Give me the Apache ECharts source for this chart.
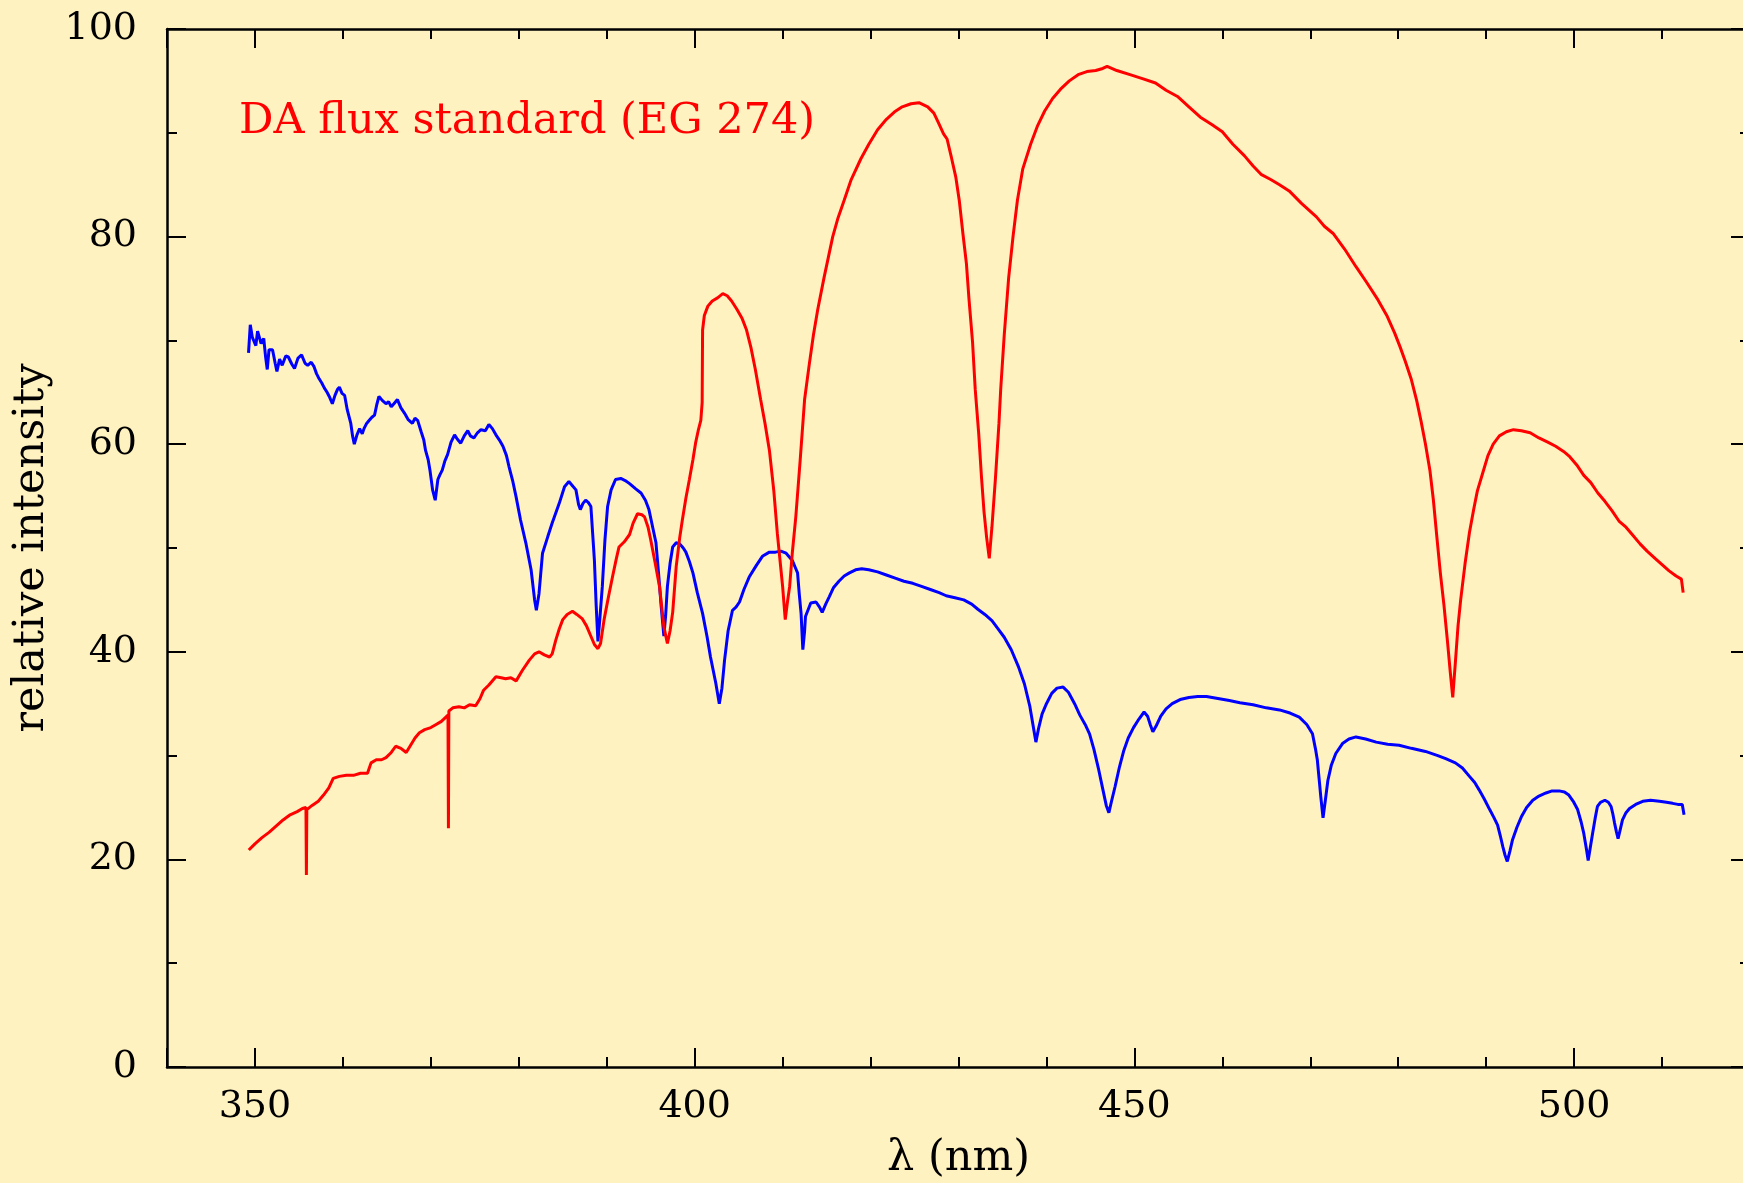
<!DOCTYPE html>
<html>
<head>
<meta charset="utf-8">
<title>DA flux standard (EG 274)</title>
<script src="https://cdn.jsdelivr.net/npm/echarts@6/dist/echarts.min.js"></script>
<style>
  html, body { margin: 0; padding: 0; background: #fff2c1; overflow: hidden; width: 1743px; height: 1183px; }
  #chart { position: absolute; left: 0; top: 0; width: 1743px; height: 1183px; }
</style>
</head>
<body>
<div id="chart"></div>
<script>
// wavelength (nm) and relative intensity
const blueWavelength = [
  349.27, 349.47, 349.7, 349.9, 350.1, 350.3, 350.7, 351.0, 351.2, 351.4, 351.6, 352.0, 352.3, 352.5, 352.8,
  353.1, 353.5, 353.8, 354.2, 354.5, 354.9, 355.3, 355.7, 356.0, 356.4, 356.7, 357.0, 357.3, 357.6, 357.9,
  358.2, 358.45, 358.8, 359.1, 359.4, 359.6, 359.9, 360.2, 360.5, 360.9, 361.1, 361.3, 361.6, 361.9, 362.2,
  362.4, 362.7, 363.0, 363.3, 363.6, 363.85, 364.1, 364.5, 364.9, 365.2, 365.5, 365.9, 366.2, 366.6, 367.0,
  367.4, 367.9, 368.2, 368.5, 368.9, 369.2, 369.4, 369.7, 369.9, 370.2, 370.5, 370.8, 371.0, 371.3, 371.6,
  371.9, 372.3, 372.7, 373.0, 373.4, 373.8, 374.2, 374.5, 374.9, 375.3, 375.7, 376.2, 376.6, 377.0, 377.4,
  377.8, 378.2, 378.6, 378.9, 379.3, 379.7, 380.2, 380.8, 381.4, 381.8, 382.0, 382.3, 382.7, 383.3, 383.8,
  384.6, 385.2, 385.7, 386.1, 386.5, 386.8, 387.0, 387.3, 387.6, 387.9, 388.2, 388.4, 388.6, 388.8, 389.0,
  389.2, 389.5, 389.8, 390.1, 390.5, 391.0, 391.6, 392.1, 392.6, 393.3, 393.9, 394.4, 394.8, 395.2, 395.6,
  395.9, 396.2, 396.5, 396.7, 396.9, 397.2, 397.5, 397.9, 398.3, 398.7, 399.0, 399.4, 399.8, 400.3, 400.9,
  401.4, 401.8, 402.4, 402.8, 403.1, 403.4, 403.8, 404.3, 404.7, 405.1, 405.6, 406.2, 407.0, 407.7, 408.5,
  409.2, 409.8, 410.4, 411.1, 411.5, 411.7, 411.9, 412.1, 412.3, 412.5, 412.6, 413.2, 413.8, 414.2, 414.5,
  414.9, 415.3, 415.8, 416.4, 417.0, 417.6, 418.3, 419.0, 419.8, 420.8, 421.8, 422.8, 423.8, 424.8, 425.8,
  426.8, 427.8, 428.6, 429.6, 430.6, 431.5, 432.2, 433.0, 433.8, 434.5, 435.2, 436.0, 436.8, 437.5, 438.1,
  438.5, 438.8, 439.1, 439.5, 440.0, 440.6, 441.2, 441.9, 442.5, 443.2, 443.8, 444.4, 444.9, 445.4, 445.9,
  446.4, 446.8, 447.1, 447.4, 447.8, 448.3, 448.8, 449.3, 449.9, 450.5, 451.1, 451.5, 451.8, 452.1, 452.5,
  453.0, 453.6, 454.3, 455.2, 456.2, 457.2, 458.2, 459.5, 460.8, 462.0, 463.5, 465.0, 466.5, 467.7, 468.75,
  469.6, 470.25, 470.6, 470.8, 471.0, 471.2, 471.45, 471.7, 472.0, 472.4, 472.9, 473.7, 474.4, 475.2, 476.3,
  477.5, 478.8, 480.1, 481.5, 483.1, 484.5, 485.4, 486.5, 487.3, 488.1, 488.7, 489.2, 489.8, 490.4, 490.9,
  491.3, 491.6, 491.9, 492.15, 492.4, 492.7, 493.0, 493.5, 494.0, 494.6, 495.3, 496.0, 496.8, 497.5, 498.3,
  498.9, 499.4, 499.9, 500.4, 500.8, 501.1, 501.4, 501.6, 501.85, 502.1, 502.4, 502.65, 503.0, 503.5, 503.9,
  504.2, 504.4, 504.6, 504.8, 505.0, 505.25, 505.5, 505.9, 506.3, 507.0, 507.8, 508.7, 509.7, 510.5, 511.2,
  511.8, 512.3, 512.5
];
const blueIntensity = [
  68.8, 71.5, 70.3, 70.2, 69.5, 70.9, 69.7, 70.2, 68.5, 67.2, 69.1, 69.1, 67.8, 67.0, 68.2,
  67.6, 68.5, 68.4, 67.7, 67.3, 68.3, 68.6, 67.8, 67.6, 67.9, 67.5, 66.8, 66.3, 65.9, 65.4,
  65.0, 64.6, 63.9, 64.7, 65.3, 65.5, 64.9, 64.7, 63.3, 62.0, 60.8, 60.0, 60.9, 61.5, 61.0,
  61.5, 62.0, 62.3, 62.6, 62.8, 63.8, 64.6, 64.2, 63.9, 64.1, 63.6, 64.0, 64.3, 63.5, 63.0,
  62.4, 62.0, 62.5, 62.3, 61.2, 60.4, 59.4, 58.5, 57.5, 55.6, 54.6, 56.6, 57.0, 57.5, 58.4,
  59.0, 60.2, 60.9, 60.5, 60.1, 60.8, 61.3, 60.8, 60.6, 61.1, 61.4, 61.3, 61.9, 61.5, 60.9,
  60.4, 59.8, 58.9, 57.8, 56.5, 54.9, 52.7, 50.5, 47.9, 45.0, 44.0, 45.6, 49.5, 51.1, 52.4,
  54.3, 55.9, 56.4, 56.0, 55.6, 54.2, 53.7, 54.3, 54.6, 54.4, 54.0, 51.4, 48.8, 44.5, 41.0,
  43.0, 46.3, 50.8, 54.0, 55.6, 56.6, 56.7, 56.5, 56.2, 55.7, 55.3, 54.6, 53.7, 52.1, 50.5,
  47.5, 44.3, 41.5, 43.5, 46.3, 48.5, 50.1, 50.5, 50.4, 50.0, 49.6, 48.7, 47.6, 45.7, 43.7,
  41.5, 39.5, 37.0, 35.0, 36.5, 39.2, 42.0, 44.0, 44.3, 44.8, 46.0, 47.2, 48.3, 49.2, 49.6,
  49.6, 49.7, 49.5, 48.8, 48.0, 47.6, 45.5, 43.7, 40.2, 42.0, 43.4, 44.7, 44.8, 44.3, 43.8,
  44.6, 45.3, 46.2, 46.8, 47.3, 47.6, 47.9, 48.0, 47.9, 47.7, 47.4, 47.1, 46.8, 46.6, 46.3,
  46.0, 45.7, 45.4, 45.2, 45.0, 44.6, 44.1, 43.6, 43.0, 42.2, 41.4, 40.2, 38.6, 36.9, 34.8,
  32.8, 31.3, 32.6, 34.0, 35.0, 36.0, 36.5, 36.6, 36.1, 35.0, 33.9, 33.0, 32.1, 30.6, 28.8,
  26.8, 25.2, 24.5, 25.6, 27.0, 28.9, 30.5, 31.7, 32.7, 33.5, 34.2, 33.8, 33.0, 32.3, 32.9,
  33.8, 34.5, 35.0, 35.4, 35.6, 35.7, 35.7, 35.5, 35.3, 35.1, 34.9, 34.6, 34.4, 34.1, 33.7,
  33.0, 32.1, 30.6, 29.6, 27.8, 26.0, 24.0, 25.6, 27.6, 29.1, 30.2, 31.2, 31.6, 31.8, 31.6,
  31.3, 31.1, 31.0, 30.7, 30.4, 30.0, 29.7, 29.3, 28.8, 28.0, 27.4, 26.7, 25.8, 24.8, 24.0,
  23.3, 22.3, 21.2, 20.4, 19.8, 20.8, 21.9, 23.1, 24.1, 25.0, 25.7, 26.1, 26.4, 26.6, 26.6,
  26.5, 26.2, 25.6, 24.8, 23.6, 22.5, 21.0, 19.9, 21.2, 22.5, 24.0, 25.1, 25.5, 25.7, 25.5,
  25.1, 24.4, 23.5, 22.7, 22.0, 22.9, 23.8, 24.5, 24.9, 25.3, 25.6, 25.7, 25.6, 25.5, 25.4,
  25.3, 25.3, 24.3
];

const redWavelength = [
  349.3, 350.0, 350.8, 351.6, 352.4, 353.2, 354.0, 354.8, 355.4, 355.8, 355.85, 355.9, 356.5, 357.2, 357.8,
  358.4, 358.9, 359.6, 360.4, 361.2, 362.0, 362.8, 363.2, 363.8, 364.4, 364.9, 365.5, 366.0, 366.6, 367.2,
  367.7, 368.2, 368.7, 369.3, 370.0, 370.6, 371.2, 371.95, 372.0, 372.05, 372.5, 373.2, 373.8, 374.4, 375.1,
  375.6, 376.0, 376.6, 377.4, 378.0, 378.5, 379.1, 379.7, 380.4, 381.2, 381.8, 382.3, 382.9, 383.5, 383.8,
  384.2, 384.6, 385.0, 385.5, 386.1, 386.6, 387.2, 387.7, 388.2, 388.6, 389.0, 389.3, 389.7, 390.2, 390.7,
  391.1, 391.4, 392.0, 392.6, 393.0, 393.5, 394.0, 394.3, 394.7, 395.0, 395.5, 396.0, 396.5, 396.9, 397.2,
  397.5, 397.9, 398.3, 398.6, 399.0, 399.4, 399.8, 400.1, 400.4, 400.7, 400.85, 400.9, 401.1, 401.5, 402.0,
  402.6, 403.2, 403.7, 404.2, 404.8, 405.4, 405.9, 406.4, 406.9, 407.5, 408.0, 408.5, 409.0, 409.4, 409.8,
  410.0, 410.3, 410.55, 410.8, 411.1, 411.5, 412.0, 412.5, 413.0, 413.5, 414.0, 414.7, 415.2, 415.7, 416.3,
  417.0, 417.8, 418.9, 419.8, 420.8, 421.8, 422.7, 423.6, 424.6, 425.5, 426.5, 427.2, 427.7, 428.3, 428.7,
  429.2, 429.7, 430.1, 430.5, 430.9, 431.2, 431.6, 431.9, 432.3, 432.6, 432.9, 433.2, 433.5, 433.8, 434.2,
  434.6, 434.8, 435.2, 435.7, 436.2, 436.7, 437.3, 438.2, 439.0, 439.8, 440.7, 441.6, 442.6, 443.6, 444.6,
  445.6, 446.4, 446.9, 448.0, 449.5, 451.0, 452.4, 453.6, 454.9, 456.2, 457.5, 458.8, 460.0, 461.2, 462.5,
  463.5, 464.4, 465.5, 466.5, 467.6, 469.0, 470.7, 471.6, 472.6, 473.9, 475.2, 476.4, 477.7, 478.7, 479.6,
  480.2, 480.8, 481.5, 482.1, 482.6, 483.1, 483.6, 484.0, 484.4, 484.8, 485.2, 485.6, 485.9, 486.2, 486.5,
  486.8, 487.1, 487.6, 488.1, 488.6, 489.0, 489.6, 490.2, 490.8, 491.5, 492.3, 493.1, 494.0, 495.0, 496.0,
  497.0, 497.9, 498.8, 499.5, 500.3, 501.1, 501.9, 502.7, 503.5, 504.3, 505.1, 505.9, 506.7, 507.5, 508.3,
  509.2, 510.0, 510.8, 511.6, 512.2, 512.4
];
const redIntensity = [
  20.9, 21.5, 22.1, 22.6, 23.2, 23.8, 24.3, 24.6, 24.9, 25.0, 18.5, 24.8, 25.2, 25.6, 26.2,
  26.9, 27.8, 28.0, 28.1, 28.1, 28.3, 28.3, 29.3, 29.6, 29.6, 29.8, 30.3, 30.9, 30.7, 30.3,
  31.0, 31.7, 32.2, 32.5, 32.7, 33.0, 33.3, 33.9, 23.0, 34.3, 34.6, 34.7, 34.6, 34.9, 34.8,
  35.5, 36.3, 36.8, 37.6, 37.5, 37.4, 37.5, 37.2, 38.2, 39.2, 39.8, 40.0, 39.7, 39.5, 39.8,
  41.1, 42.2, 43.1, 43.6, 43.9, 43.6, 43.2, 42.5, 41.5, 40.7, 40.3, 40.8, 43.1, 45.3, 47.4,
  49.0, 50.1, 50.6, 51.3, 52.4, 53.3, 53.2, 53.0, 52.0, 50.8, 48.6, 46.3, 42.4, 40.8, 42.0,
  43.8, 48.2, 51.0, 52.7, 54.8, 56.6, 58.5, 60.1, 61.3, 62.3, 64.0, 71.0, 72.4, 73.3, 73.8,
  74.1, 74.5, 74.3, 73.8, 73.0, 72.1, 71.0, 69.3, 67.2, 64.3, 62.0, 59.4, 55.5, 51.4, 48.0,
  46.3, 43.1, 44.8, 46.3, 49.5, 53.0, 58.5, 64.3, 67.5, 70.5, 73.0, 76.0, 78.0, 80.0, 81.8,
  83.5, 85.5, 87.5, 88.9, 90.3, 91.3, 92.0, 92.5, 92.8, 92.9, 92.5, 91.9, 91.0, 89.9, 89.4,
  87.6, 85.7, 83.4, 80.3, 77.4, 73.9, 69.8, 65.3, 61.0, 57.0, 53.5, 51.0, 49.0, 52.0, 56.7,
  62.0, 65.3, 70.5, 76.0, 80.0, 83.5, 86.5, 88.9, 90.7, 92.1, 93.3, 94.2, 95.0, 95.6, 95.9,
  96.0, 96.2, 96.4, 96.0, 95.6, 95.2, 94.8, 94.1, 93.5, 92.5, 91.5, 90.8, 90.1, 88.9, 87.8,
  86.8, 86.0, 85.5, 85.0, 84.4, 83.2, 81.9, 81.0, 80.3, 78.8, 77.1, 75.6, 73.9, 72.4, 70.7,
  69.4, 68.0, 66.2, 64.2, 62.2, 60.0, 57.5, 54.6, 51.0, 47.5, 44.5, 41.0, 38.2, 35.6, 39.0,
  42.5, 45.0, 48.5, 51.5, 53.8, 55.5, 57.2, 58.9, 60.0, 60.8, 61.2, 61.4, 61.3, 61.1, 60.6,
  60.2, 59.8, 59.3, 58.8, 58.0, 57.0, 56.3, 55.3, 54.5, 53.6, 52.6, 52.0, 51.2, 50.4, 49.7,
  49.0, 48.4, 47.8, 47.3, 47.0, 45.7
];

const xTickLabels = [350, 400, 450, 500];
const yTickLabels = [0, 20, 40, 60, 80, 100];

const zip = (xs, ys) => xs.map((x, i) => [x, ys[i]]);

const FONT = "DejaVu Serif";
const axisColor = "#000";

const chart = echarts.init(document.getElementById("chart"), null, { renderer: "canvas" });

// short ticks every 10 nm (labels only at multiples of 50)
const xMinor = (pos, labels) => ({
  type: "value", position: pos, min: 340, max: 520, interval: 10,
  axisLine: { show: true, onZero: false, lineStyle: { color: axisColor, width: 2.5 } },
  axisTick: { show: true, inside: true, length: 10, lineStyle: { color: axisColor, width: 2 } },
  axisLabel: labels ? {
    show: true, margin: 21, color: "#000", fontFamily: FONT, fontSize: 38,
    showMinLabel: false, showMaxLabel: false,
    formatter: (v) => (xTickLabels.includes(v) ? String(v) : "")
  } : { show: false },
  splitLine: { show: false }
});
// long ticks at 350, 400, 450, 500
const xMajor = (pos) => ({
  type: "value", position: pos, min: 340, max: 520, splitNumber: 4,
  axisLine: { show: false, onZero: false },
  axisLabel: { show: false }, splitLine: { show: false },
  axisTick: { show: true, inside: true, length: 19, lineStyle: { color: axisColor, width: 2 } }
});
const yAxisFor = (pos, labels) => ({
  type: "value", position: pos, min: 0, max: 100, interval: 20,
  axisLine: { show: true, onZero: false, lineStyle: { color: axisColor, width: 2.5 } },
  axisTick: { show: true, inside: true, length: 19, lineStyle: { color: axisColor, width: 2 } },
  minorTick: { show: true, splitNumber: 2, length: 10, lineStyle: { color: axisColor, width: 2 } },
  axisLabel: labels ? {
    show: true, margin: 30, color: "#000", fontFamily: FONT, fontSize: 38,
    formatter: (v) => (yTickLabels.includes(v) ? String(v) : "")
  } : { show: false },
  splitLine: { show: false }, minorSplitLine: { show: false }
});

const xBottom = xMinor("bottom", true);
xBottom.name = "λ (nm)";
xBottom.nameLocation = "middle";
xBottom.nameGap = 70;
xBottom.nameTextStyle = { color: "#000", fontFamily: FONT, fontSize: 43 };

const yLeft = yAxisFor("left", true);
yLeft.name = "relative intensity";
yLeft.nameLocation = "middle";
yLeft.nameGap = 109;
yLeft.nameTextStyle = { color: "#000", fontFamily: FONT, fontSize: 43 };

chart.setOption({
  animation: false,
  backgroundColor: "#fff2c1",
  title: {
    text: "DA flux standard (EG 274)",
    left: 234, top: 95,
    textStyle: { color: "#ff0000", fontFamily: FONT, fontSize: 43, fontWeight: "normal" }
  },
  grid: { left: 167, top: 29, width: 1583, height: 1038, outerBoundsMode: "none", containLabel: false },
  xAxis: [xBottom, xMajor("bottom"), xMinor("top", false), xMajor("top")],
  yAxis: [yLeft, yAxisFor("right", false)],
  series: [
    {
      name: "blue", type: "line", xAxisIndex: 0, yAxisIndex: 0,
      data: zip(blueWavelength, blueIntensity),
      showSymbol: false, symbol: "none",
      lineStyle: { color: "#0000ff", width: 3 }, z: 3
    },
    {
      name: "red", type: "line", xAxisIndex: 0, yAxisIndex: 0,
      data: zip(redWavelength, redIntensity),
      showSymbol: false, symbol: "none",
      lineStyle: { color: "#ff0000", width: 3 }, z: 4
    }
  ]
});
</script>
</body>
</html>
